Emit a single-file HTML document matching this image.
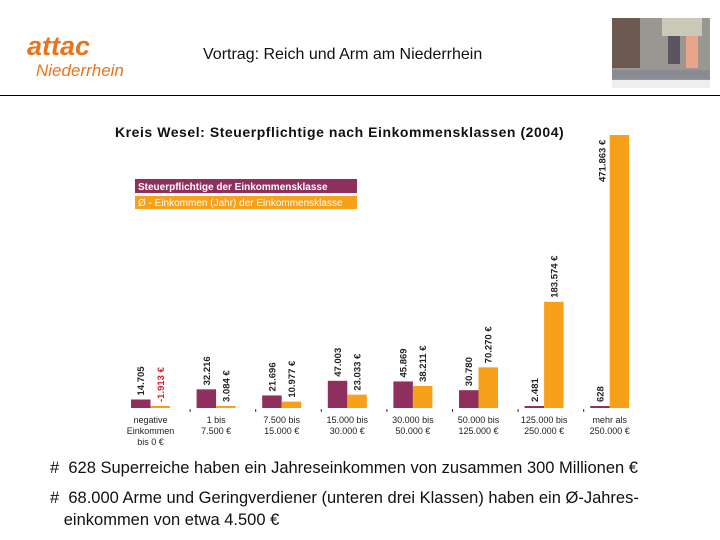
<!DOCTYPE html>
<html><head><meta charset="utf-8"><style>
body{margin:0;width:720px;height:540px;background:#fff;overflow:hidden;position:relative;font-family:"Liberation Sans",sans-serif}
.abs{position:absolute;white-space:nowrap}
</style></head><body>
<div class="abs" style="left:27px;top:31px;color:#e8741e;font-weight:bold;font-style:italic;font-size:27px">attac</div>
<div class="abs" style="left:36px;top:61px;color:#e8741e;font-style:italic;font-size:17px">Niederrhein</div>
<div class="abs" style="left:203px;top:46px;font-size:16px;color:#111">Vortrag: Reich und Arm am Niederrhein</div>
<svg class="abs" style="left:612px;top:18px" width="98" height="70">
<rect width="98" height="70" fill="#9a9692"/><rect x="0" y="0" width="28" height="50" fill="#6c5a52"/>
<rect x="50" y="0" width="40" height="18" fill="#c9c9b8"/><rect x="56" y="18" width="12" height="28" fill="#5a5560"/><rect x="74" y="18" width="12" height="32" fill="#e9a48a"/>
<rect x="0" y="52" width="98" height="9" fill="#8a8a92"/><rect x="0" y="62" width="98" height="8" fill="#eee"/></svg>
<div class="abs" style="left:0;top:95px;width:720px;height:1px;background:#000"></div>
<div class="abs" style="left:115px;top:124px;font-size:14px;letter-spacing:0.55px;font-weight:bold;color:#111">Kreis Wesel: Steuerpflichtige nach Einkommensklassen (2004)</div>
<svg id="chart" class="abs" style="left:0;top:0" width="720" height="460"></svg>
<div class="abs" style="left:50px;top:459px;font-size:16.5px;color:#111"># &nbsp;628 Superreiche haben ein Jahreseinkommen von zusammen 300 Millionen €</div>
<div class="abs" style="left:50px;top:487px;font-size:16.5px;color:#111;line-height:22px"># &nbsp;68.000 Arme und Geringverdiener (unteren drei Klassen) haben ein Ø-Jahres-<br>&nbsp;&nbsp; einkommen von etwa 4.500 €</div>
<script>
const categories=[["negative","Einkommen","bis 0 €"],["1 bis","7.500 €"],["7.500 bis","15.000 €"],["15.000 bis","30.000 €"],["30.000 bis","50.000 €"],["50.000 bis","125.000 €"],["125.000 bis","250.000 €"],["mehr als","250.000 €"]];
const taxpayers=[14705,32216,21696,47003,45869,30780,2481,628];
const avgIncome=[-1913,3084,10977,23033,38211,70270,183574,471863];
const taxpayerLabels=["14.705","32.216","21.696","47.003","45.869","30.780","2.481","628"];
const incomeLabels=["-1.913 €","3.084 €","10.977 €","23.033 €","38.211 €","70.270 €","183.574 €","471.863 €"];
const svg=document.getElementById('chart');const NS='http://www.w3.org/2000/svg';
const base=408,scale=273/471863,x0=131,step=65.6,bw=19.5;
const y=v=>Math.max(2,Math.abs(v)*scale);
function mk(t,a){const e=document.createElementNS(NS,t);for(const k in a)e.setAttribute(k,a[k]);svg.appendChild(e);return e;}
const lg1=mk('rect',{x:135,y:179,width:222,height:14,fill:'#8e2f5e'});


const lt1=mk('text',{x:138,y:190,'font-size':10,'font-weight':'bold',fill:'#fff'});lt1.textContent='Steuerpflichtige der Einkommensklasse';


const lg2=mk('rect',{x:135,y:196,width:222,height:13,fill:'#f7a01a'});


const lt2=mk('text',{x:138,y:206,'font-size':10,fill:'#fff'});lt2.textContent='Ø - Einkommen (Jahr) der Einkommensklasse';


categories.forEach((c,i)=>{
 const gx=x0+i*step;
 const h1=y(taxpayers[i]),h2=y(avgIncome[i]);
 const b1=mk('rect',{x:gx,y:base-h1,width:bw,height:h1,fill:'#8e2f5e'});
 
 
 const b2=mk('rect',{x:gx+bw,y:base-h2,width:bw,height:h2,fill:'#f7a01a'});
 
 
 [[taxpayerLabels[i],gx+bw/2,h1,'#222'],[incomeLabels[i],gx+bw*1.5,h2,avgIncome[i]<0?'#d0202a':'#222']].forEach(([t,cx,h,col])=>{
  let ty=base-h-4;
  if(ty<190){cx=cx-bw+2;ty=182;}
  const tx=mk('text',{x:cx+3.5,y:ty,transform:`rotate(-90 ${cx+3.5} ${ty})`,'font-size':9.5,'font-weight':'bold',fill:col});
  tx.textContent=t;
  
  
 });
 if(i>0){const tk=mk('line',{x1:gx-6.5,x2:gx-6.5,y1:base+1,y2:base+4,stroke:'#333'});
  
  }
 c.forEach((ln,j)=>{const t=mk('text',{x:gx+bw,y:base+15+j*11,'font-size':9,'text-anchor':'middle',fill:'#222'});t.textContent=ln;
  
  });
});
</script>
</body></html>
